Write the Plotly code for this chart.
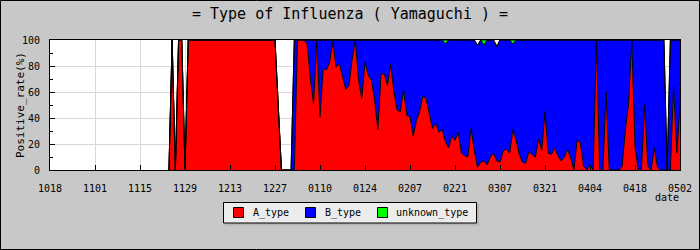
import plotly.graph_objects as go
import pandas as pd

# Daily data from 2010-11-24 to 2011-05-02 (percent of positives)
start_date = "2010-11-24"
A_type = [
    0, 100, 0, 100, 100, 0, 100, 100, 100, 100,
    100, 100, 100, 100, 100, 100, 100, 100, 100, 100,
    100, 100, 100, 100, 100, 100, 100, 100, 100, 100,
    100, 100, 100, 100, 50, 0, 0, 0, 0, 0,
    100, 100, 100, 97, 70, 51, 100, 41, 78, 77,
    83, 99, 79, 82, 73, 62, 65, 85, 100, 69,
    55, 83, 73, 69, 54, 31, 74, 74, 65, 81,
    60, 46, 45, 62, 42, 41, 26, 38, 45, 57,
    55, 42, 32, 36, 29, 31, 22, 17, 26, 23,
    29, 13, 11, 10, 32, 15, 2, 6, 7, 4,
    10, 13, 7, 6, 15, 16, 13, 31, 23, 12,
    6, 5, 14, 12, 10, 24, 15, 45, 13, 12,
    17, 11, 7, 10, 16, 9, 0, 23, 21, 3,
    0, 4, 0, 100, 0, 0, 60, 0, 0, 0,
    0, 3, 31, 51, 100, 18, 0, 0, 50, 3,
    0, 17, 2, 0, 0, 0, 0, 65, 13, 50,
]
B_type = [
    0, 0, 0, 0, 0, 0, 0, 0, 0, 0,
    0, 0, 0, 0, 0, 0, 0, 0, 0, 0,
    0, 0, 0, 0, 0, 0, 0, 0, 0, 0,
    0, 0, 0, 0, 0, 0, 0, 0, 0, 100,
    0, 0, 0, 3, 30, 49, 0, 59, 22, 23,
    17, 1, 21, 18, 27, 38, 35, 15, 0, 31,
    45, 17, 27, 31, 46, 69, 26, 26, 35, 19,
    40, 54, 55, 38, 58, 59, 74, 62, 55, 43,
    45, 58, 68, 64, 71, 69, 75, 83, 74, 77,
    71, 87, 89, 90, 68, 85, 94, 94, 89, 96,
    90, 87, 88, 94, 85, 84, 87, 66, 77, 88,
    94, 95, 86, 88, 90, 76, 85, 55, 87, 88,
    83, 89, 93, 90, 84, 91, 100, 77, 79, 97,
    100, 96, 100, 0, 100, 100, 40, 100, 100, 100,
    100, 97, 69, 49, 0, 82, 100, 100, 50, 97,
    100, 83, 98, 100, 100, 0, 100, 35, 87, 50,
]
unknown_type = [
    0, 0, 0, 0, 0, 0, 0, 0, 0, 0,
    0, 0, 0, 0, 0, 0, 0, 0, 0, 0,
    0, 0, 0, 0, 0, 0, 0, 0, 0, 0,
    0, 0, 0, 0, 0, 0, 0, 0, 0, 0,
    0, 0, 0, 0, 0, 0, 0, 0, 0, 0,
    0, 0, 0, 0, 0, 0, 0, 0, 0, 0,
    0, 0, 0, 0, 0, 0, 0, 0, 0, 0,
    0, 0, 0, 0, 0, 0, 0, 0, 0, 0,
    0, 0, 0, 0, 0, 0, 3, 0, 0, 0,
    0, 0, 0, 0, 0, 0, 0, 0, 4, 0,
    0, 0, 0, 0, 0, 0, 0, 3, 0, 0,
    0, 0, 0, 0, 0, 0, 0, 0, 0, 0,
    0, 0, 0, 0, 0, 0, 0, 0, 0, 0,
    0, 0, 0, 0, 0, 0, 0, 0, 0, 0,
    0, 0, 0, 0, 0, 0, 0, 0, 0, 0,
    0, 0, 0, 0, 0, 0, 0, 0, 0, 0,
]
tick_labels = ["1018", "1101", "1115", "1129", "1213", "1227", "0110", "0124",
               "0207", "0221", "0307", "0321", "0404", "0418", "0502"]
axis_start = "2010-10-18"
axis_end = "2011-05-02"

series_names = ["A_type", "B_type", "unknown_type"]
series_colors = ["#FF0000", "#0000FF", "#00FF00"]

dates = pd.date_range(start_date, periods=len(A_type), freq="D")
tick_dates = pd.date_range(axis_start, axis_end, freq="14D")

MONO = "DejaVu Sans Mono"
W, H = 700, 250
L, R, T, B = 50, 20, 40, 80
pw, ph = W - L - R, H - T - B


def px_x(v):
    return (v - L) / pw


def px_y(v):
    return (T + ph - v) / ph


fig = go.Figure()
for name, vals, col in zip(series_names, [A_type, B_type, unknown_type], series_colors):
    fig.add_trace(go.Scatter(
        x=dates, y=vals, name=name, stackgroup="one", mode="lines",
        line=dict(color="black", width=1), fillcolor=col, showlegend=False,
        hoverinfo="x+y+name"))

shapes = [
    # outer frame of the image
    dict(type="rect", xref="paper", yref="paper",
         x0=px_x(0.5), x1=px_x(W - 0.5), y0=px_y(H - 0.5), y1=px_y(0.5),
         line=dict(color="black", width=1), fillcolor="rgba(0,0,0,0)", layer="above"),
    # legend shadow and box
    dict(type="rect", xref="paper", yref="paper",
         x0=px_x(225), x1=px_x(479), y0=px_y(225.5), y1=px_y(204),
         line=dict(width=0), fillcolor="#B4B4B4", layer="above"),
    dict(type="rect", xref="paper", yref="paper",
         x0=px_x(223.5), x1=px_x(476.5), y0=px_y(223), y1=px_y(202.5),
         line=dict(color="black", width=1), fillcolor="#ECECEC", layer="above"),
]
annotations = [
    dict(text="Positive_rate(%)", textangle=-90, xref="paper", yref="paper",
         x=px_x(20), y=0.5, xanchor="center", yanchor="middle", showarrow=False,
         font=dict(family=MONO, size=11, color="black")),
    dict(text="date", xref="paper", yref="paper", x=px_x(667), y=px_y(197),
         xanchor="center", yanchor="middle", showarrow=False,
         font=dict(family=MONO, size=10, color="black")),
]
leg_sq_x = [233.5, 305.5, 377.5]
leg_tx_x = [250.5, 322.5, 394.5]
for name, col, sx, tx in zip(series_names, series_colors, leg_sq_x, leg_tx_x):
    shapes.append(dict(type="rect", xref="paper", yref="paper",
                       x0=px_x(sx), x1=px_x(sx + 10), y0=px_y(217.5), y1=px_y(207.5),
                       line=dict(color="black", width=1), fillcolor=col, layer="above"))
    annotations.append(dict(text=name, xref="paper", yref="paper", x=px_x(tx), y=px_y(212.5),
                            xanchor="left", yanchor="middle", showarrow=False,
                            font=dict(family=MONO, size=10, color="black")))

fig.update_layout(
    width=W, height=H,
    margin=dict(l=L, r=R, t=T, b=B, pad=0),
    paper_bgcolor="#C8C8C8", plot_bgcolor="white",
    font=dict(family=MONO, size=10, color="black"),
    title=dict(text="= Type of Influenza ( Yamaguchi ) =", x=0.5, xanchor="center",
               y=1 - 14 / H, yanchor="middle", font=dict(family=MONO, size=15, color="black")),
    showlegend=False,
    xaxis=dict(type="date", range=[axis_start, axis_end], tickvals=tick_dates, ticktext=tick_labels,
               showgrid=True, gridcolor="#D8D8D8", gridwidth=1, ticks="inside", ticklen=5,
               tickcolor="black", showline=True, linecolor="black", linewidth=1, mirror=True,
               zeroline=False, ticklabelstandoff=9, automargin=False,
               tickfont=dict(family=MONO, size=10)),
    yaxis=dict(range=[0, 100], tickvals=[0, 20, 40, 60, 80, 100], showgrid=True,
               gridcolor="#D8D8D8", gridwidth=1, ticks="inside", ticklen=5, tickcolor="black",
               minor=dict(dtick=10, ticks="inside", ticklen=3, tickcolor="black", showgrid=False),
               showline=True, linecolor="black", linewidth=1, mirror=True, zeroline=False,
               ticklabelstandoff=7, automargin=False, tickfont=dict(family=MONO, size=10)),
    annotations=annotations,
    shapes=shapes,
)

fig.write_html("out.html")
